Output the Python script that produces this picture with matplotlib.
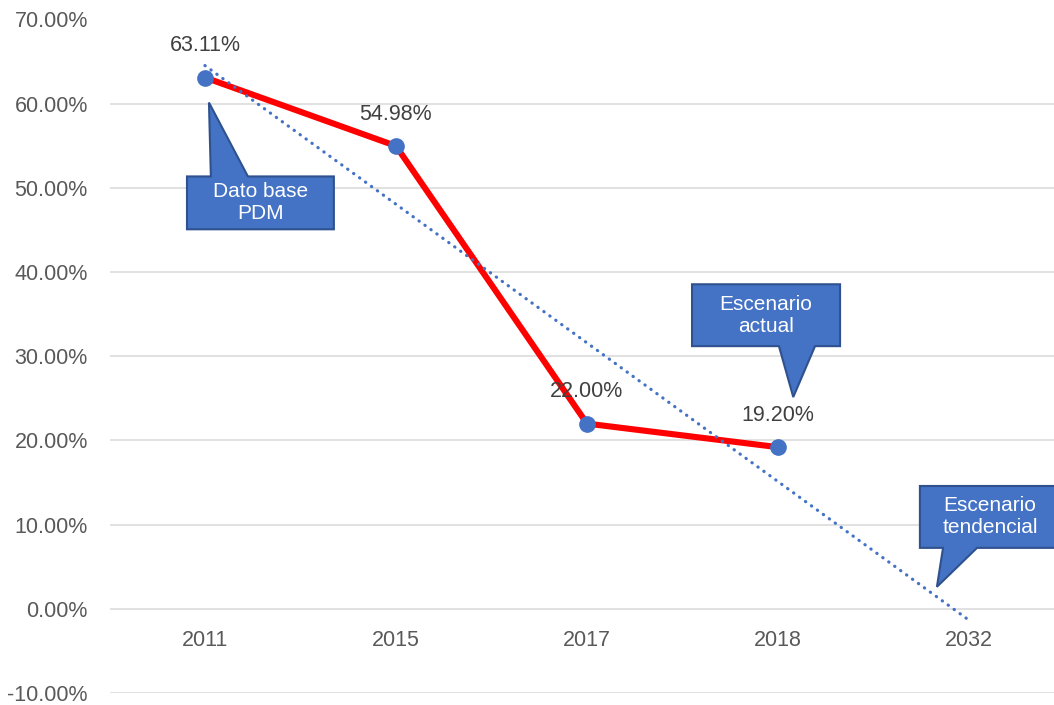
import numpy as np
import matplotlib.pyplot as plt
from matplotlib.patches import Polygon

# datos
categorias = ['2011', '2015', '2017', '2018', '2032']
valores = [63.11, 54.98, 22.00, 19.20]  # en %
yticks = [-10, 0, 10, 20, 30, 40, 50, 60, 70]

azul = '#4472C4'
borde = '#2F528F'
plt.rcParams['font.family'] = ['Liberation Sans', 'DejaVu Sans']

fig = plt.figure(figsize=(10.54, 7.05), dpi=100)
ax = fig.add_axes([110/1054, 12/705, 944/1054, 673.5/705])

x = np.arange(len(valores))
xt = np.arange(len(categorias))

# linea de tendencia lineal (como la de Excel), extendida hasta 2032
a, b = np.polyfit(x + 1, valores, 1)
tendencia = a * (xt + 1) + b

ax.plot(x, valores, '-', color='#FF0000', lw=4.4, zorder=3)
ax.plot(x, valores, 'o', color=azul, ms=11, zorder=4)
ax.plot(xt, tendencia, color=azul, lw=2.3, linestyle=(0, (0.1, 2.2)),
        dash_capstyle='round', zorder=5)

for xi, v in zip(x, valores):
    ax.annotate(f'{v:.2f}%', (xi, v), xytext=(0, 23), textcoords='offset points',
                ha='center', va='center', fontsize=15.5, color='#404040')

ax.set_xlim(-0.497, 4.445)
ax.set_ylim(-10, 70)
ax.set_yticks(yticks)
ax.set_yticklabels([f'{t:.2f}%' for t in yticks])
ax.set_xticks(xt)
ax.set_xticklabels(categorias)
ax.tick_params(axis='y', length=0, pad=16, labelsize=15.5, labelcolor='#595959')
ax.tick_params(axis='x', length=0, pad=15, labelsize=15.5, labelcolor='#595959')
ax.spines['bottom'].set_position(('data', 0))
for s in ax.spines.values():
    s.set_visible(False)
ax.grid(axis='y', color='#D9D9D9', lw=1.1)
ax.set_axisbelow(True)


# llamadas (caja + punta)
def llamada(x0, x1, y0, y1, b1, b2, punta, lado, texto):
    if lado == 'arriba':
        pts = [(x0, y0), (x1, y0), (x1, y1), (b2, y1), punta, (b1, y1), (x0, y1)]
    else:
        pts = [(x0, y1), (x1, y1), (x1, y0), (b2, y0), punta, (b1, y0), (x0, y0)]
    ax.add_patch(Polygon(pts, closed=True, facecolor=azul, edgecolor=borde,
                         lw=1.5, zorder=6, clip_on=False))
    ax.text((x0 + x1) / 2, (y0 + y1) / 2, texto, ha='center', va='center',
            color='white', fontsize=15, linespacing=1.2, zorder=7)


llamada(-0.094, 0.675, 45.08, 51.36, 0.031, 0.225, (0.021, 60.14), 'arriba',
        'Dato base\nPDM')
llamada(2.55, 3.325, 31.2, 38.55, 3.005, 3.194, (3.08, 25.15), 'abajo',
        'Escenario\nactual')
llamada(3.743, 4.476, 7.24, 14.59, 3.864, 4.042, (3.832, 2.61), 'abajo',
        'Escenario\ntendencial')

plt.savefig('out.png', dpi=100)
